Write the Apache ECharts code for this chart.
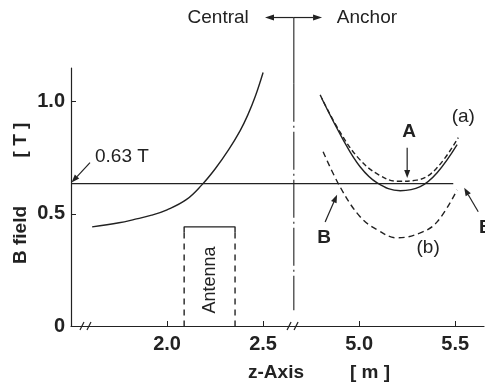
<!DOCTYPE html>
<html>
<head>
<meta charset="utf-8">
<script src="https://cdn.jsdelivr.net/npm/echarts@6/dist/echarts.min.js"></script>
<style>
  html, body { margin: 0; padding: 0; background: #fff; }
  #main { width: 485px; height: 383px; }
</style>
</head>
<body>
<div id="main"></div>
<script>
// display axis: central part as is, anchor part shifted by -2.0 m
const xTickVals = [2.0, 2.5, 3.0, 3.5];
const xTickLabels = ['2.0', '2.5', '5.0', '5.5'];
const yTickVals = [0, 0.5, 1.0];
const yTickLabels = ['0', '0.5', '1.0'];

const centralZ = [1.61, 1.75, 1.83, 1.92, 2.0, 2.1, 2.18, 2.25, 2.32, 2.38, 2.42, 2.46, 2.5];
const centralB = [0.442, 0.46, 0.475, 0.494, 0.518, 0.563, 0.628, 0.70, 0.785, 0.87, 0.94, 1.025, 1.13];

const anchorAZ = [2.805, 2.917, 3.005, 3.094, 3.214, 3.318, 3.406, 3.51];
const anchorAB = [1.015, 0.83, 0.71, 0.638, 0.603, 0.621, 0.683, 0.808];

const anchorA2Z = [2.797, 2.9, 3.0, 3.1, 3.2, 3.3, 3.4, 3.516];
const anchorA2B = [1.03, 0.865, 0.745, 0.675, 0.645, 0.65, 0.70, 0.84];

const anchorBZ = [2.8125, 2.901, 3.005, 3.094, 3.198, 3.318, 3.406, 3.51];
const anchorBB = [0.777, 0.62, 0.487, 0.429, 0.393, 0.415, 0.464, 0.607];

const refB = 0.635;           // 0.63 T line
const refZ = [1.5, 3.49];
const antennaZ = [2.089, 2.354];
const antennaTop = 0.442;
const dividerZ = 2.66;

const ink = '#222';
const pairs = (xs, ys) => xs.map((x, i) => [x, ys[i]]);

var chart = echarts.init(document.getElementById('main'));

function lineSeries(data, type, extra) {
  return Object.assign({
    type: 'line', data: data, showSymbol: false, symbol: 'none', silent: true,
    lineStyle: { color: ink, width: 1.4, type: type || 'solid' }
  }, extra || {});
}

chart.setOption({
  animation: false,
  grid: { left: 71, right: 1, top: 68, bottom: 57 },
  xAxis: {
    type: 'value', min: 1.5, max: 3.65, interval: 0.5,
    splitLine: { show: false },
    axisLine: { lineStyle: { color: ink, width: 1.2 } },
    axisTick: { inside: true, length: 5, lineStyle: { color: ink } },
    axisLabel: {
      margin: 8, color: ink, fontSize: 20, fontWeight: 'bold', fontFamily: 'Liberation Sans',
      showMinLabel: false, showMaxLabel: false,
      formatter: v => { const i = xTickVals.findIndex(t => Math.abs(t - v) < 1e-6); return i < 0 ? '' : xTickLabels[i]; }
    }
  },
  yAxis: {
    type: 'value', min: 0, max: 1.15, interval: 0.5,
    splitLine: { show: false },
    axisLine: { show: true, lineStyle: { color: ink, width: 1.2 } },
    axisTick: { show: true, inside: true, length: 5, lineStyle: { color: ink } },
    axisLabel: {
      margin: 6, color: ink, fontSize: 20, fontWeight: 'bold', fontFamily: 'Liberation Sans',
      showMaxLabel: false,
      formatter: v => { const i = yTickVals.findIndex(t => Math.abs(t - v) < 1e-6); return i < 0 ? '' : yTickLabels[i]; }
    }
  },
  series: [
    lineSeries(pairs(centralZ, centralB), 'solid', { smooth: 0.4 }),
    lineSeries(pairs(anchorAZ, anchorAB), 'solid', { smooth: 0.4 }),
    lineSeries(pairs(anchorA2Z, anchorA2B), [5, 3], { smooth: 0.4 }),
    lineSeries(pairs(anchorBZ, anchorBB), [6, 4], { smooth: 0.4 }),
    lineSeries(refZ.map(z => [z, refB]), 'solid', { lineStyle: { color: ink, width: 1.2 } }),
    // antenna box
    lineSeries([[antennaZ[0], antennaTop - 0.025], [antennaZ[0], antennaTop], [antennaZ[1], antennaTop], [antennaZ[1], antennaTop - 0.025]], 'solid'),
    lineSeries([[antennaZ[0], antennaTop - 0.025], [antennaZ[0], 0]], [6, 5]),
    lineSeries([[antennaZ[1], antennaTop - 0.025], [antennaZ[1], 0]], [6, 5]),
    // central / anchor divider
    lineSeries([[dividerZ, 1.375], [dividerZ, 1.08]], 'solid', { clip: false, lineStyle: { color: ink, width: 1.1 } }),
    lineSeries([[dividerZ, 1.08], [dividerZ, 0.07]], [38, 4, 2, 4], { clip: false, lineStyle: { color: ink, width: 1.1, type: [38, 4, 2, 4] } })
  ]
});

// annotations placed through the chart's own scales
function px(z, b) { return chart.convertToPixel({ gridIndex: 0 }, [z, b]); }

function arrow(p1, p2, head) {
  const a = px(p1[0], p1[1]), b = px(p2[0], p2[1]);
  const ang = Math.atan2(b[1] - a[1], b[0] - a[0]);
  const h = head || 7, w = 3;
  const bx = b[0] - h * Math.cos(ang), by = b[1] - h * Math.sin(ang);
  return [
    { type: 'line', shape: { x1: a[0], y1: a[1], x2: bx, y2: by }, style: { stroke: ink, lineWidth: 1.2 } },
    { type: 'polygon', shape: { points: [[b[0], b[1]],
      [bx + w * Math.sin(ang), by - w * Math.cos(ang)],
      [bx - w * Math.sin(ang), by + w * Math.cos(ang)]] }, style: { fill: ink } }
  ];
}

function label(z, b, text, opts) {
  const p = px(z, b);
  return Object.assign({
    type: 'text', x: p[0], y: p[1],
    style: Object.assign({ text: text, fill: ink, font: '19px "Liberation Sans"', align: 'center', verticalAlign: 'middle' }, (opts && opts.style) || {})
  }, (opts && opts.el) || {});
}

function breakMark(z) {
  const p = px(z, 0);
  const s = { stroke: ink, lineWidth: 1.2 };
  return [
    { type: 'rect', shape: { x: p[0] - 3, y: p[1] - 2, width: 6, height: 4 }, style: { fill: '#fff' } },
    { type: 'line', shape: { x1: p[0] - 6, y1: p[1] + 4, x2: p[0] - 2, y2: p[1] - 4 }, style: s },
    { type: 'line', shape: { x1: p[0] + 1, y1: p[1] + 4, x2: p[0] + 5, y2: p[1] - 4 }, style: s }
  ];
}

const divTop = px(dividerZ, 1.375);
const g = [].concat(
  breakMark(1.578),
  breakMark(2.656),
  arrow([dividerZ, 1.375], [2.51, 1.375], 9),
  arrow([dividerZ, 1.375], [2.807, 1.375], 9),
  arrow([1.599, 0.728], [1.503, 0.64], 8),
  arrow([3.25, 0.795], [3.25, 0.66], 8),
  arrow([2.823, 0.464], [2.885, 0.585], 8),
  arrow([3.62, 0.509], [3.547, 0.616], 8),
  [
    { type: 'text', x: divTop[0] - 45, y: divTop[1], style: { text: 'Central', fill: ink, font: '19px "Liberation Sans"', align: 'right', verticalAlign: 'middle' } },
    { type: 'text', x: divTop[0] + 43, y: divTop[1], style: { text: 'Anchor', fill: ink, font: '19px "Liberation Sans"', align: 'left', verticalAlign: 'middle' } },
    label(1.625, 0.754, '0.63 T', { style: { align: 'left' } }),
    label(3.26, 0.866, 'A', { style: { font: 'bold 19px "Liberation Sans"' } }),
    label(3.542, 0.933, '(a)'),
    label(2.818, 0.393, 'B', { style: { font: 'bold 19px "Liberation Sans"' } }),
    label(3.66, 0.437, 'B', { style: { font: 'bold 19px "Liberation Sans"' } }),
    label(3.359, 0.348, '(b)'),
    label((antennaZ[0] + antennaZ[1]) / 2, 0.205, 'Antenna', { el: { rotation: Math.PI / 2 }, style: { font: '18px "Liberation Sans"' } }),
    { type: 'text', x: 276, y: 373, style: { text: 'z-Axis', fill: ink, font: 'bold 19px "Liberation Sans"', align: 'center', verticalAlign: 'middle' } },
    { type: 'text', x: 370, y: 373, style: { text: '[ m ]', fill: ink, font: 'bold 19px "Liberation Sans"', align: 'center', verticalAlign: 'middle' } },
    { type: 'text', x: 21, y: 235, rotation: Math.PI / 2, style: { text: 'B field', fill: ink, font: 'bold 19px "Liberation Sans"', align: 'center', verticalAlign: 'middle' } },
    { type: 'text', x: 21, y: 140, rotation: Math.PI / 2, style: { text: '[ T ]', fill: ink, font: 'bold 19px "Liberation Sans"', align: 'center', verticalAlign: 'middle' } }
  ]
);
chart.setOption({ graphic: g });
</script>
</body>
</html>
